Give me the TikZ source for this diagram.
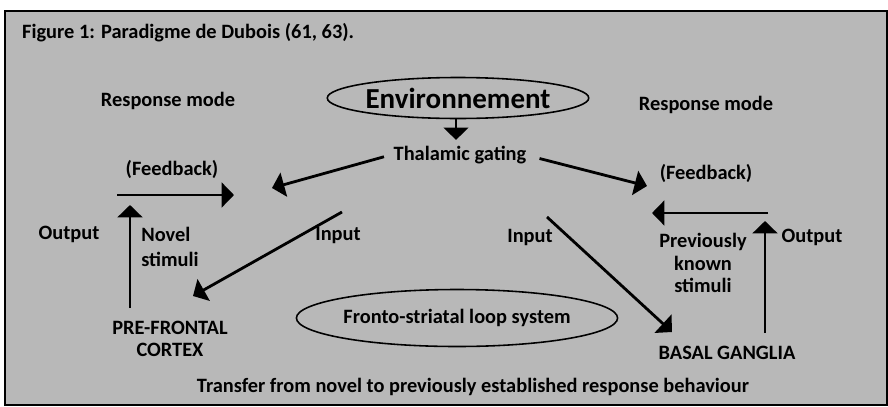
\documentclass[tikz,border=0pt]{standalone}
\usepackage{fontspec}
\setmainfont{Carlito}
\usetikzlibrary{arrows.meta,shapes.geometric}

\begin{document}
\begin{tikzpicture}[x=0.02cm, y=-0.02cm, font=\bfseries\fontsize{11.6}{12.8}\selectfont,
  arr/.style={line width=1.6pt, -{Triangle[length=7pt, width=14pt]}},
  oval/.style={draw, ellipse, line width=0.9pt, inner sep=0pt}]
\useasboundingbox (0,0) rectangle (888,406);
\fill[white] (0,0) rectangle (888,406);
\draw[fill=black!28, line width=0.8pt] (5,11) rectangle (887,405);
% titles and ovals
\node[anchor=west] (title) at (16,33) {Figure 1: Paradigme de Dubois (61, 63).};
\node (respL) at (168,101) {Response mode}; \node (respR) at (706,105) {Response mode};
\node[oval, minimum width=4.26cm, minimum height=0.82cm, font=\bfseries\fontsize{16.5}{18}\selectfont] (env) at (458,98) {Environnement};
\node (thal) at (460,155) {Thalamic gating};
\node[oval, minimum width=5.62cm, minimum height=1.14cm] (loop) at (457,318) {Fronto-striatal loop system};
\node (transfer) at (473,387) {Transfer from novel to previously established response behaviour};
% labels
\node (fbL) at (172,169) {(Feedback)}; \node (fbR) at (706,173) {(Feedback)};
\node (outL) at (69,234) {Output}; \node (outR) at (812,237) {Output};
\node[align=left, font=\bfseries\fontsize{11.6}{14}\selectfont] (novel) at (170,247) {Novel\\stimuli};
\node (inL) at (338,235) {Input}; \node (inR) at (530,237) {Input};
\node[align=center] (known) at (703,263) {Previously\\known\\stimuli};
\node[align=center] (pfc) at (170,339) {PRE-FRONTAL\\CORTEX};
\node (bg) at (727,353) {BASAL GANGLIA};
% free ends
\coordinate (gateL) at (272,188); \coordinate (gateR) at (647,186);
\coordinate (fbLs) at (117,195); \coordinate (fbLe) at (234,195);
\coordinate (fbRs) at (768,213); \coordinate (fbRe) at (652,213);
\coordinate (outLs) at (130,308); \coordinate (outLe) at (130,205);
\coordinate (outRs) at (765,333); \coordinate (outRe) at (765,221);
\coordinate (inLs) at (342,212); \coordinate (inLe) at (193,296);
\coordinate (inRs) at (547,217); \coordinate (inRe) at (672,332);
% arrows
\draw[arr] (env.south -| 456,0) -- (thal.north -| 456,0);
\draw[arr] ([xshift=-2pt, yshift=-1pt]thal.west) -- (gateL); \draw[arr] ([xshift=4pt, yshift=-2pt]thal.east) -- (gateR);
\draw[arr] (fbLs) -- (fbLe); \draw[arr] (fbRs) -- (fbRe);
\draw[arr] (outLs) -- (outLe); \draw[arr] (outRs) -- (outRe);
\draw[arr] (inLs) -- (inLe); \draw[arr] (inRs) -- (inRe);
\end{tikzpicture}
\end{document}
